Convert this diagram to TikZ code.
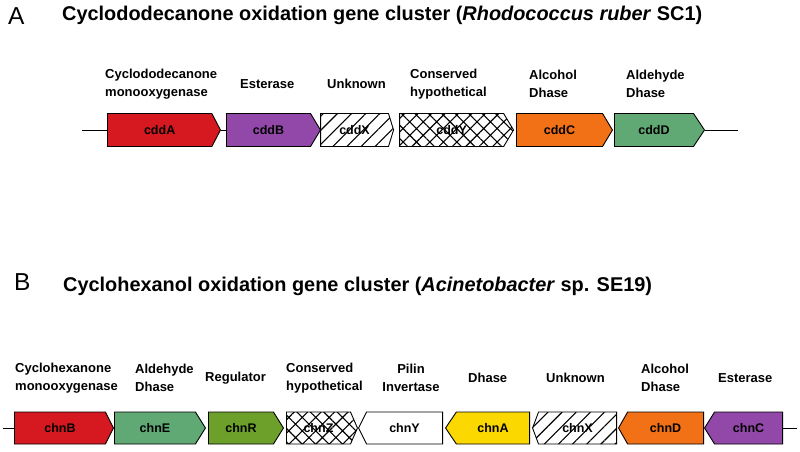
\documentclass[tikz,border=0pt]{standalone}
\usepackage{fontspec}
\setmainfont{Liberation Sans}
\usetikzlibrary{shapes.symbols, patterns.meta}
\definecolor{genered}{RGB}{214, 24, 32}
\definecolor{genepurple}{RGB}{146, 72, 168}
\definecolor{geneorange}{RGB}{242, 112, 22}
\definecolor{genegreen}{RGB}{96, 168, 116}
\definecolor{geneleaf}{RGB}{108, 160, 42}
\definecolor{geneyellow}{RGB}{250, 216, 0}

\begin{document}
\begin{tikzpicture}[
  x=1pt, y=-1pt,
  gene/.style={
    signal,
    signal to=east,
    signal pointer angle=118,
    draw=black,
    line width=0.9pt,
    minimum height=33pt,
    inner sep=0pt,
    anchor=west,
    font=\bfseries\fontsize{12.5}{14}\selectfont,
  },
  generev/.style={
    signal,
    signal to=west,
    signal pointer angle=118,
    draw=black,
    line width=0.9pt,
    minimum height=32pt,
    inner sep=0pt,
    anchor=east,
    font=\bfseries\fontsize{12.5}{14}\selectfont,
  },
  unknown/.style={pattern={Lines[angle=45, distance=10pt, line width=1.1pt]}},
  conserved/.style={pattern={Hatch[angle=45, distance=9.5pt, line width=1.1pt]}},
  genelabel/.style={
    anchor=west,
    align=left,
    inner sep=0pt,
    font=\bfseries\fontsize{13}{17.5}\selectfont,
  },
  leader/.style={line width=0.9pt},
  paneltitle/.style={anchor=base west, inner sep=0pt, font=\bfseries\fontsize{19.9}{24}\selectfont},
  panelletter/.style={anchor=base west, inner sep=0pt, font=\fontsize{24.5}{28}\selectfont},
]
  \useasboundingbox (0,0) rectangle (800,451);

  % === A: cyclododecanone cluster ===
  \node[panelletter] (a-letter) at (8,24) {A};
  \node[paneltitle] (a-title) at (62,20.7) {Cyclododecanone oxidation gene cluster (\textit{Rhodococcus ruber} SC1)};

  % genes (left to right)
  \node[gene, fill=genered, minimum width=113pt, signal pointer angle=125] (cddA) at (107,130) {cddA};
  \node[gene, fill=genepurple, minimum width=94pt] (cddB) at (226,130) {cddB};
  \node[gene, unknown, minimum width=73pt, signal pointer angle=146] (cddX) at (320,130) {cddX};
  \node[gene, conserved, minimum width=114pt] (cddY) at (399,130) {cddY};
  \node[gene, fill=geneorange, minimum width=96pt] (cddC) at (516,130) {cddC};
  \node[gene, fill=genegreen, minimum width=90pt, signal pointer angle=113] (cddD) at (614,130) {cddD};

  % function labels
  \node[genelabel] (cddA-l) at (105,84) {Cyclododecanone\\monooxygenase};
  \node[genelabel] (cddB-l) at (240,84) {Esterase};
  \node[genelabel] (cddX-l) at (327,84) {Unknown};
  \node[genelabel] (cddY-l) at (410,84) {Conserved\\hypothetical};
  \node[genelabel] (cddC-l) at (529,84) {Alcohol\\Dhase};
  \node[genelabel] (cddD-l) at (626,84) {Aldehyde\\Dhase};

  % flanking DNA
  \coordinate (a-start) at (82,130);
  \coordinate (a-end) at (738,130);
  \draw[leader] (a-start) -- (cddA.west);
  \draw[leader] (cddA.east) -- (cddB.west);
  \draw[leader] (cddD.east) -- (a-end);

  % === B: cyclohexanol cluster ===
  \node[panelletter] (b-letter) at (14,290) {B};
  \node[paneltitle] (b-title) at (63,291.5) {Cyclohexanol oxidation gene cluster (\textit{Acinetobacter} sp. SE19)};

  % genes, forward strand
  \node[gene, fill=genered, minimum height=32pt, minimum width=99pt, signal pointer angle=127] (chnB) at (14,428) {chnB};
  \node[gene, fill=genegreen, minimum height=32pt, minimum width=91pt, signal pointer angle=116] (chnE) at (114,428) {chnE};
  \node[gene, fill=geneleaf, minimum height=32pt, minimum width=75pt, signal pointer angle=116] (chnR) at (208,428) {chnR};
  \node[gene, conserved, minimum height=32pt, minimum width=71pt, signal pointer angle=133] (chnZ) at (286,428) {chnZ};
  % genes, reverse strand
  \node[generev, fill=white, minimum width=84pt, signal pointer angle=127] (chnY) at (443,428) {chnY};
  \node[generev, fill=geneyellow, minimum width=84pt, signal pointer angle=112] (chnA) at (530,428) {chnA};
  \node[generev, unknown, minimum width=84pt, signal pointer angle=139] (chnX) at (617,428) {chnX};
  \node[generev, fill=geneorange, minimum width=85pt, signal pointer angle=121] (chnD) at (704,428) {chnD};
  \node[generev, fill=genepurple, minimum width=78pt, signal pointer angle=116] (chnC) at (783,428) {chnC};

  % function labels
  \node[genelabel] (chnB-l) at (15,378) {Cyclohexanone\\monooxygenase};
  \node[genelabel] (chnE-l) at (135,378) {Aldehyde\\Dhase};
  \node[genelabel] (chnR-l) at (205,378) {Regulator};
  \node[genelabel] (chnZ-l) at (286,378) {Conserved\\hypothetical};
  \node[genelabel, anchor=center, align=center] (chnY-l) at (411,378) {Pilin\\Invertase};
  \node[genelabel] (chnA-l) at (468,378) {Dhase};
  \node[genelabel] (chnX-l) at (546,378) {Unknown};
  \node[genelabel] (chnD-l) at (641,378) {Alcohol\\Dhase};
  \node[genelabel] (chnC-l) at (718,378) {Esterase};

  % flanking DNA
  \coordinate (b-start) at (3,428);
  \coordinate (b-end) at (797,428);
  \draw[leader] (b-start) -- (chnB.west);
  \draw[leader] (chnC.east) -- (b-end);

\end{tikzpicture}
\end{document}
